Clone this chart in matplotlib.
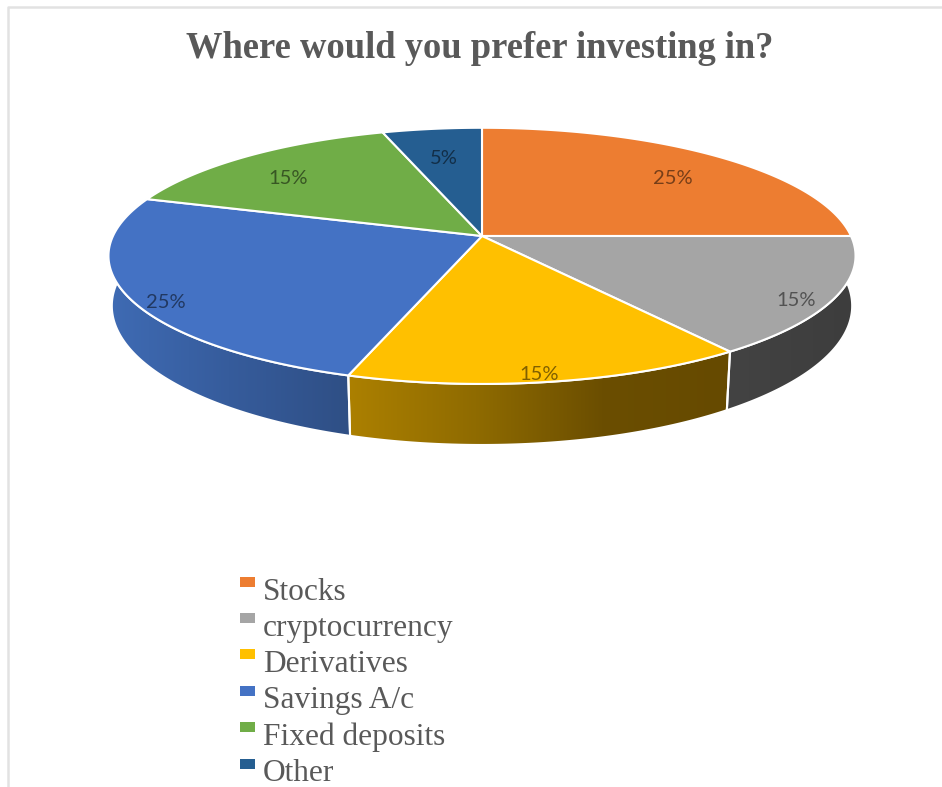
import numpy as np
import matplotlib
matplotlib.use('Agg')
import matplotlib.pyplot as plt
from matplotlib.colors import LinearSegmentedColormap
from matplotlib.patches import Polygon, Rectangle


title = 'Where would you prefer investing in?'
categories = ['Stocks', 'cryptocurrency', 'Derivatives', 'Savings A/c', 'Fixed deposits', 'Other']
values = [25, 15, 15, 25, 15, 5]
colors = ['#ED7D31', '#A5A5A5', '#FFC000', '#4472C4', '#70AD47', '#255E91']

# side wall shading, left to right, for each slice
wall_colors = [
    ['#B0581E', '#8A4418'],
    ['#434343', '#3D3D3D'],
    ['#AC8000', '#8F6B00', '#6B4E00', '#664A00'],
    ['#3F6BB4', '#365C9C', '#2F4F85'],
    ['#4A7530', '#4A7530'],
    ['#1A4468', '#1A4468'],
]

# where the percentages sit on the pie
label_x = [673, 796, 539, 166, 288, 444]
label_y = [178, 300, 375, 303, 179, 158]

# perspective of the top face and of the bottom rim
top = dict(cx=482, cy=236, a=369, b=125, k=0.155)
bottom = dict(cx=482, cy=285, a=366, b=136, k=0.15)


def rim(start, end, disc):
    # angles run clockwise from twelve o'clock
    t = np.radians(np.linspace(start, end, 200))
    u, v = np.sin(t), -np.cos(t)
    d = 1 - disc['k'] * v
    return disc['cx'] + disc['a'] * u / d, disc['cy'] + disc['b'] * v / d


fig = plt.figure(figsize=(9.42, 7.87), dpi=100)
ax = fig.add_axes([0, 0, 1, 1])

angles = np.concatenate([[0], np.cumsum(values)]) / sum(values) * 360

# back slices first so the front walls end up on top
for i in [4, 5, 0, 3, 2, 1]:
    xt, yt = rim(angles[i], angles[i + 1], top)
    xb, yb = rim(angles[i], angles[i + 1], bottom)
    pts = np.column_stack([np.r_[xt, xb[::-1]], np.r_[yt, yb[::-1]]])
    wall = Polygon(pts, closed=True, facecolor='none', edgecolor='none')
    ax.add_patch(wall)
    cmap = LinearSegmentedColormap.from_list('wall', wall_colors[i])
    grad = np.linspace(0, 1, 256).reshape(1, -1)
    im = ax.imshow(grad, cmap=cmap, aspect='auto', zorder=1,
                   extent=[pts[:, 0].min(), pts[:, 0].max(), pts[:, 1].max(), pts[:, 1].min()])
    im.set_clip_path(wall)
    ax.add_patch(Polygon(pts, closed=True, facecolor='none', edgecolor='white', lw=1.5, zorder=2))

for i in range(len(values)):
    x, y = rim(angles[i], angles[i + 1], top)
    pts = np.column_stack([np.r_[top['cx'], x], np.r_[top['cy'], y]])
    ax.add_patch(Polygon(pts, closed=True, facecolor=colors[i], edgecolor='white',
                         lw=1.5, joinstyle='round', zorder=3))

for v, lx, ly in zip(values, label_x, label_y):
    ax.text(lx, ly, f'{v}%', fontsize=14.5, family='Lato', color='black', alpha=0.5,
            ha='center', va='center', zorder=5)

ax.text(479.5, 58, title, fontsize=26.3, family='Liberation Serif', weight='bold',
        color='#595959', ha='center', va='baseline')

# legend
legend_y = [582, 618, 654, 691, 727, 764]
legend_base = [600, 636, 672, 708, 745, 781]
for name, c, ly, base in zip(categories, colors, legend_y, legend_base):
    ax.add_patch(Rectangle((240, ly - 5), 15, 10, facecolor=c, edgecolor='none'))
    ax.text(263, base, name, fontsize=22.6, family='Liberation Serif', color='#595959',
            ha='left', va='baseline')

# chart frame
ax.plot([8, 8, 942], [787, 7, 7], color='#E2E2E2', lw=1.8, zorder=0)

ax.set_xlim(0, 942)
ax.set_ylim(787, 0)
ax.axis('off')

fig.savefig('out.png', dpi=100)
